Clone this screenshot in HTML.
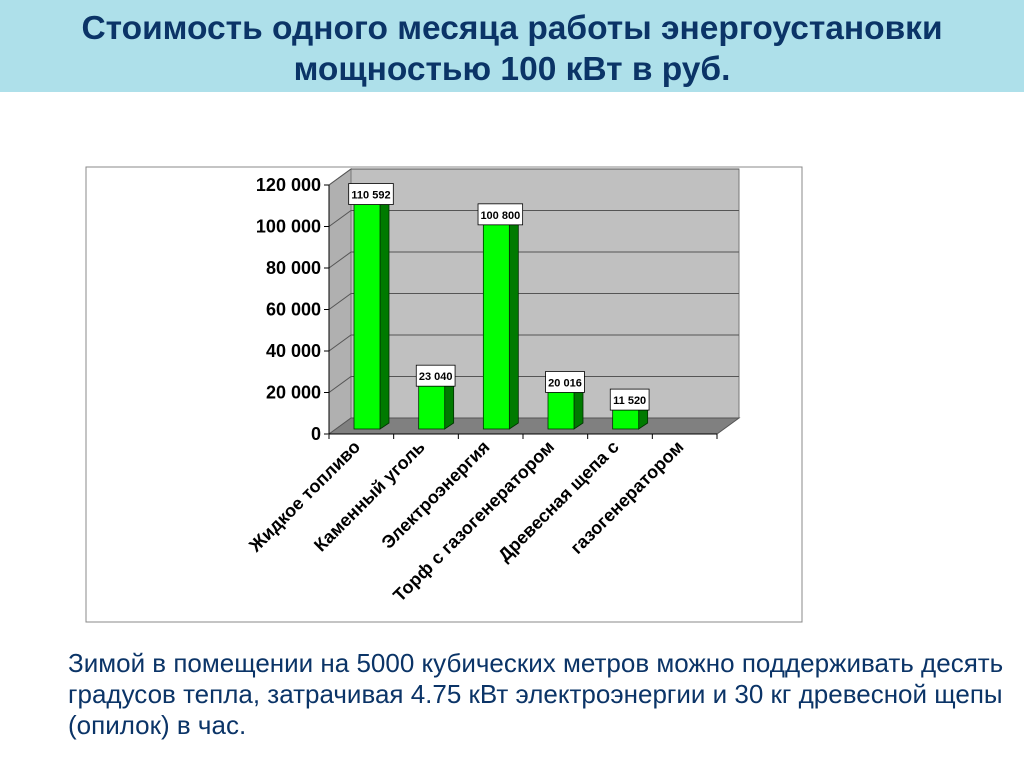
<!DOCTYPE html>
<html><head><meta charset="utf-8"><style>
body{margin:0;width:1024px;height:768px;background:#fff;overflow:hidden;position:relative;font-family:"Liberation Sans",sans-serif}
#band{position:absolute;left:0;top:0;width:1024px;height:92px;background:#aee0ea}
#title{position:absolute;left:0;top:8px;width:1024px;text-align:center;font-weight:bold;font-size:33.5px;line-height:41px;color:#0b3467}
#note{position:absolute;left:68px;top:648px;width:940px;font-size:26px;line-height:31px;color:#0b3467}
svg{position:absolute;left:0;top:0}
</style></head><body>
<div id="band"></div>
<div id="title">Стоимость одного месяца работы энергоустановки<br>мощностью 100 кВт в руб.</div>
<svg id="chart" width="1024" height="768"></svg>
<div id="note">Зимой в помещении на 5000 кубических метров можно поддерживать десять градусов тепла, затрачивая 4.75 кВт электроэнергии и 30 кг древесной щепы (опилок) в час.</div>
<script>
const categories=["Жидкое топливо","Каменный уголь","Электроэнергия","Торф с газогенератором","Древесная щепа с","газогенератором"];
const values=[110592,23040,100800,20016,11520,null];
const valueLabels=["110 592","23 040","100 800","20 016","11 520",""];
const ticks=[0,20000,40000,60000,80000,100000,120000];
const tickLabels=["0","20 000","40 000","60 000","80 000","100 000","120 000"];
const NS="http://www.w3.org/2000/svg";
const svg=document.getElementById('chart');
function mk(t,a,p){const e=document.createElementNS(NS,t);for(const k in a)e.setAttribute(k,a[k]);(p||svg).appendChild(e);return e;}
const X0=329,X1=717,Y0=434,DX=22,DY=-16,H=249/120000;
const yF=v=>Y0-v*H;
const cw=(X1-X0)/categories.length;
const xC=i=>X0+i*cw;
let f=mk('rect',{x:86,y:167,width:716,height:455,fill:'#fff',stroke:'#888','stroke-width':1});

let w=mk('rect',{x:X0+DX,y:yF(120000)+DY,width:X1-X0,height:120000*H,fill:'#c0c0c0',stroke:'#777'});

let sw=mk('polygon',{points:`${X0},${Y0} ${X0},${yF(120000)} ${X0+DX},${yF(120000)+DY} ${X0+DX},${Y0+DY}`,fill:'#b0b0b0',stroke:'#777'});

ticks.forEach((t,i)=>{
 const y=yF(t);
 if(i>0){let g=mk('polyline',{points:`${X0},${y} ${X0+DX},${y+DY} ${X1+DX},${y+DY}`,fill:'none',stroke:'#555','stroke-width':1});
 }
 mk('line',{x1:X0-5,y1:y,x2:X0,y2:y,stroke:'#000'});
 let tx=mk('text',{x:X0-8,y:y+6,'text-anchor':'end','font-size':18,'font-weight':'bold',fill:'#000'});
 tx.textContent=tickLabels[i];
 
});
let fl=mk('polygon',{points:`${X0},${Y0} ${X0+DX},${Y0+DY} ${X1+DX},${Y0+DY} ${X1},${Y0}`,fill:'#808080',stroke:'#555'});

mk('line',{x1:X0,y1:yF(0),x2:X0,y2:yF(120000),stroke:'#000'});
mk('line',{x1:X0,y1:Y0,x2:X1,y2:Y0,stroke:'#000'});
for(let i=0;i<=categories.length;i++)mk('line',{x1:xC(i),y1:Y0,x2:xC(i),y2:Y0+5,stroke:'#000'});
const B0=429,bw=26,bd=9,bt=6;
const yB=v=>B0-v*H;
values.forEach((v,i)=>{
 const g=mk('g',{});
 
 if(v!=null){
 const x=xC(i)+25,yt=yB(v);
 mk('polygon',{points:`${x+bw},${B0} ${x+bw},${yt} ${x+bw+bd},${yt-bt} ${x+bw+bd},${B0-bt}`,fill:'#007a00',stroke:'#003000','stroke-width':0.8},g);
 mk('polygon',{points:`${x},${yt} ${x+bd},${yt-bt} ${x+bw+bd},${yt-bt} ${x+bw},${yt}`,fill:'#00c000',stroke:'#003000','stroke-width':0.8},g);
 mk('rect',{x:x,y:yt,width:bw,height:B0-yt,fill:'#00ff00',stroke:'#003000','stroke-width':0.8},g);
 const lw=valueLabels[i].length*5.8+4;
 const lb=mk('g',{},svg);
 
 mk('rect',{x:x+bw/2+4-lw/2,y:yt-16,width:lw,height:21,fill:'#fff',stroke:'#000','stroke-width':0.8},lb);
 const t=mk('text',{x:x+bw/2+4,y:yt-1,'text-anchor':'middle','font-size':11,'font-weight':'bold',fill:'#000'},lb);
 t.textContent=valueLabels[i];}
});
categories.forEach((c,i)=>{
 const x=xC(i)+cw/2,y=Y0+14;
 const t=mk('text',{x:x,y:y,'text-anchor':'end','font-size':18,'font-weight':'bold',fill:'#000',transform:`rotate(-45 ${x} ${y})`});
 t.textContent=c;
 
});
</script>
</body></html>
